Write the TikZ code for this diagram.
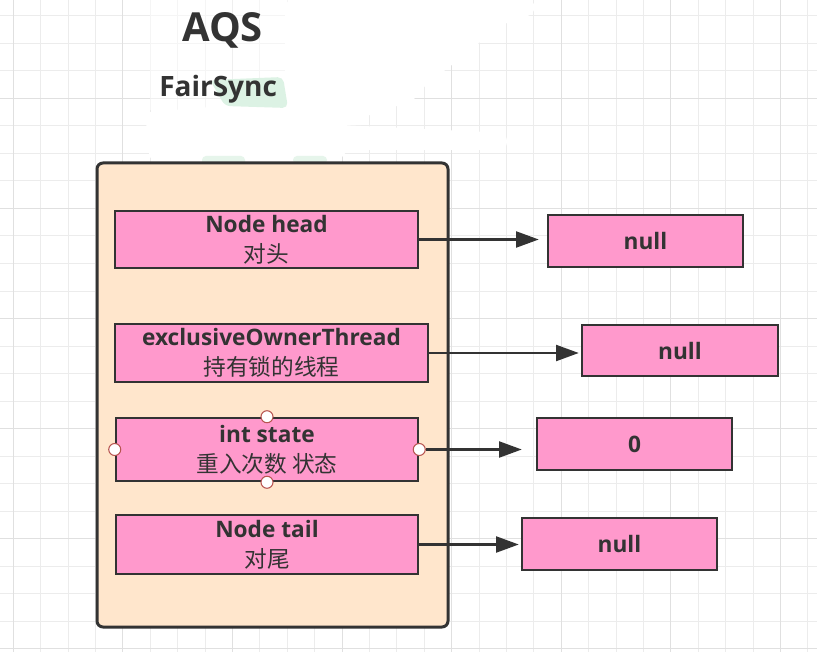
\documentclass[tikz,border=0pt]{standalone}
\usepackage{fontspec}
\setmainfont{Open Sans}
\newfontfamily\cjk{Noto Sans CJK SC}
\usetikzlibrary{arrows.meta}
\definecolor{gridminor}{HTML}{ECECEC}
\definecolor{gridmajor}{HTML}{E0E0E0}
\definecolor{darkline}{HTML}{333333}
\definecolor{textgray}{HTML}{333333}
\definecolor{pinkfill}{HTML}{FF99CC}
\definecolor{peachfill}{HTML}{FFE6CC}
\definecolor{handlered}{HTML}{B85450}
\definecolor{mint}{HTML}{DCF2E4}
\definecolor{palemint}{HTML}{E6F5EB}
\begin{document}
\begin{tikzpicture}[x=0.75pt,y=-0.75pt,
  pinkbox/.style={draw=darkline, line width=1.9pt, fill=pinkfill, text=textgray,
    align=center, inner sep=0pt, font=\fontsize{17}{22.5}\selectfont},
  handle/.style={circle, draw=handlered, fill=white, line width=0.8pt,
    minimum size=9pt, inner sep=0pt},
  arr/.style={draw=darkline, line width=1.6pt, -{Triangle[length=17pt,width=12pt]}},
  titletext/.style={text=textgray, inner sep=0pt, anchor=base west}
]
\useasboundingbox (0,0) rectangle (817,652);
\fill[white] (0,0) rectangle (817,652);
% grid
\foreach \i in {0,...,29}{
  \draw[gridminor, line width=0.75pt] ({13.3+27.4*\i},0) -- ({13.3+27.4*\i},652);
}
\foreach \j in {0,...,23}{
  \draw[gridminor, line width=0.75pt] (0,{16+27.5*\j}) -- (817,{16+27.5*\j});
}
\foreach \i in {0,4,...,28}{
  \draw[gridmajor, line width=0.75pt] ({13.3+27.4*\i},0) -- ({13.3+27.4*\i},652);
}
\foreach \j in {3,7,...,23}{
  \draw[gridmajor, line width=0.75pt] (0,{16+27.5*\j}) -- (817,{16+27.5*\j});
}
% erased area
\fill[white, opacity=0.5] (150,0) rectangle (290,110);
\fill[white, rounded corners=6pt] (285,0) -- (535,0) -- (535,14) -- (507,22) -- (480,42)
  -- (452,65) -- (425,85) -- (415,100) -- (340,125) -- (507,133) -- (507,150)
  -- (345,150) -- (340,162) -- (150,162) -- (145,112) -- (200,108) -- (285,100) -- cycle;
% green highlight under Sync
\fill[mint, rounded corners=4pt] (210,80) -- (283,77) -- (288,108) -- (225,106) -- cycle;
% faint green smudges by the container top
\fill[palemint, rounded corners=3pt] (202,156) rectangle (245,166);
\fill[palemint, rounded corners=3pt] (293,156) rectangle (327,164);
% titles
\node[titletext, font=\bfseries\fontsize{30}{30}\selectfont] (aqs) at (182,42) {AQS};
\node[titletext, font=\bfseries\fontsize{21}{21}\selectfont] (fair) at (159,97) {FairSync};
% container
\node[draw=darkline, line width=2.25pt, fill=peachfill, rounded corners=4.5pt,
  minimum width=263.25pt, minimum height=348pt, inner sep=0pt] (aqsbox) at (272.5,395) {};
% fields
\node[pinkbox, minimum width=227.25pt, minimum height=42.75pt] (head) at (266.5,239.5)
  {\bfseries Node head\\{\cjk 对头}};
\node[pinkbox, minimum width=234.75pt, minimum height=43.5pt] (excl) at (271.5,353)
  {\bfseries exclusiveOwnerThread\\{\cjk 持有锁的线程}};
\node[pinkbox, minimum width=226.5pt, minimum height=47.25pt] (state) at (267,449.5)
  {\bfseries int state\\{\cjk 重入次数 状态}};
\node[pinkbox, minimum width=226.5pt, minimum height=44.25pt] (tail) at (267,544.5)
  {\bfseries Node tail\\{\cjk 对尾}};
% values
\node[pinkbox, minimum width=146.25pt, minimum height=39pt] (null1) at (645.5,241) {\bfseries null};
\node[pinkbox, minimum width=147pt, minimum height=38.25pt] (null2) at (680,350.5) {\bfseries null};
\node[pinkbox, minimum width=146.25pt, minimum height=39pt] (zero) at (634.5,444) {\bfseries 0};
\node[pinkbox, minimum width=146.25pt, minimum height=39pt] (null3) at (619.5,544) {\bfseries null};
% handles on int state
\node[handle] (sl) at (state.west) {};
\node[handle] (sr) at (state.east) {};
\node[handle] (stop) at (state.north) {};
\node[handle] (sbot) at (state.south) {};
% arrows
\draw[arr, shorten >=6pt] (head.east) -- (null1.west |- head.east);
\draw[arr, shorten >=1.5pt] (excl.east) -- (null2.west |- excl.east);
\draw[arr, shorten >=10.5pt] (sr) -- (zero.west |- sr);
\draw[arr, shorten >=1.5pt] (tail.east) -- (null3.west |- tail.east);
\end{tikzpicture}
\end{document}
